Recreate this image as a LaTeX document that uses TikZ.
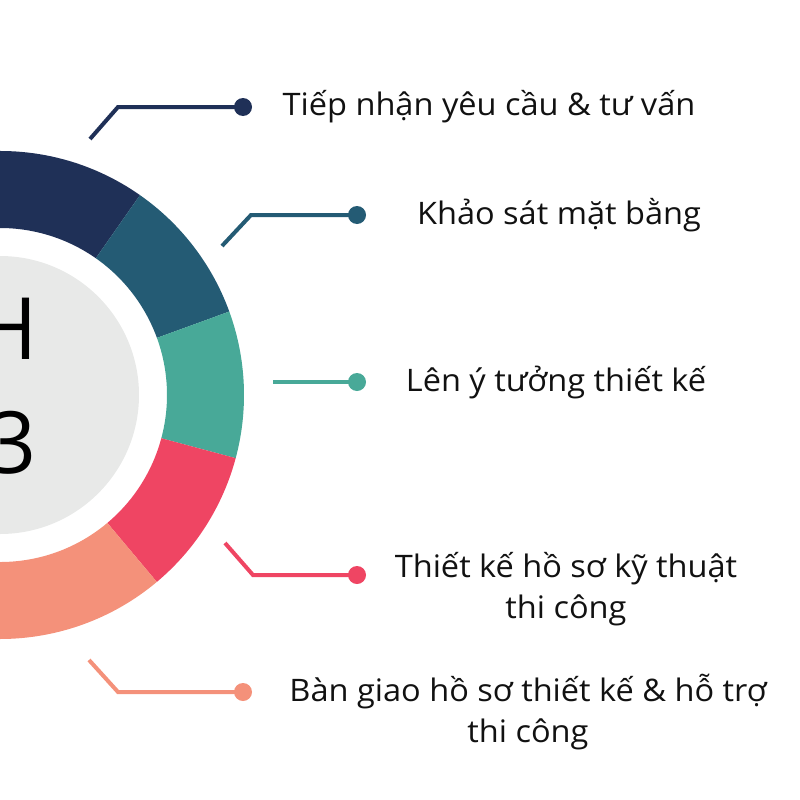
\documentclass[tikz,border=0pt]{standalone}
\usepackage{fontspec}
\setmainfont[FakeStretch=1.05]{Open Sans}
\newfontfamily\bigfont{Open Sans}
\definecolor{cnavy}{HTML}{1F3057}
\definecolor{cdteal}{HTML}{245B74}
\definecolor{cteal}{HTML}{48A998}
\definecolor{cred}{HTML}{EF4563}
\definecolor{csalmon}{HTML}{F4917A}
\definecolor{cgray}{HTML}{E8E9E8}
\definecolor{ctext}{HTML}{111111}
\newcommand\ringseg[3]{\fill[#1] ([shift={(#2:244)}]c) arc[start angle=#2,end angle=#3,radius=244] -- ([shift={(#3:167)}]c) arc[start angle=#3,end angle=#2,radius=167] -- cycle;}
\begin{document}
\begin{tikzpicture}[x=1pt,y=-1pt,
 dot/.style={circle,fill=#1,inner sep=0pt,minimum size=18pt},
 conn/.style={draw=#1,line width=4pt},
 lbl/.style={font=\fontsize{31}{41}\selectfont,text=ctext,align=center,inner sep=0pt,anchor=base},
 big/.style={font=\bigfont\fontsize{86}{90}\selectfont,text=black,inner sep=0pt,anchor=base east}]
\useasboundingbox (0,0) rectangle (800,800);
\clip (0,0) rectangle (800,800);
\coordinate (c) at (0,395);
\ringseg{cnavy}{-55}{-180}
\ringseg{cdteal}{-20}{-55}
\ringseg{cteal}{15}{-20}
\ringseg{cred}{50}{15}
\ringseg{csalmon}{180}{50}
\fill[cgray] (c) circle[radius=139];
\node[big] (h) at (38,359) {H};
\node[big] (n3) at (37,473) {3};
% dots
\node[dot=cnavy] (d1) at (243,107) {};
\node[dot=cdteal] (d2) at (357,215) {};
\node[dot=cteal] (d3) at (357,382) {};
\node[dot=cred] (d4) at (357,575) {};
\node[dot=csalmon] (d5) at (243,692) {};
% connector ends
\coordinate (s1) at (90,139); \coordinate (b1) at (118,107);
\coordinate (s2) at (222,246); \coordinate (b2) at (251,215);
\coordinate (s3) at (273,382);
\coordinate (s4) at (225,543); \coordinate (b4) at (253,575);
\coordinate (s5) at (89,660); \coordinate (b5) at (118,692);
\draw[conn=cnavy] (s1) -- (b1) -- (d1.center);
\draw[conn=cdteal] (s2) -- (b2) -- (d2.center);
\draw[conn=cteal] (s3) -- (d3.center);
\draw[conn=cred] (s4) -- (b4) -- (d4.center);
\draw[conn=csalmon] (s5) -- (b5) -- (d5.center);
% labels
\node[lbl] (t1) at (489,115) {Tiếp nhận yêu cầu \& tư vấn};
\node[lbl] (t2) at (559,224) {Khảo sát mặt bằng};
\node[lbl] (t3) at (556,391) {Lên ý tưởng thiết kế};
\node[lbl] (t4) at (566,618) {Thiết kế hồ sơ kỹ thuật\\thi công};
\node[lbl] (t5) at (528,742) {Bàn giao hồ sơ thiết kế \& hỗ trợ\\thi công};
\end{tikzpicture}
\end{document}
